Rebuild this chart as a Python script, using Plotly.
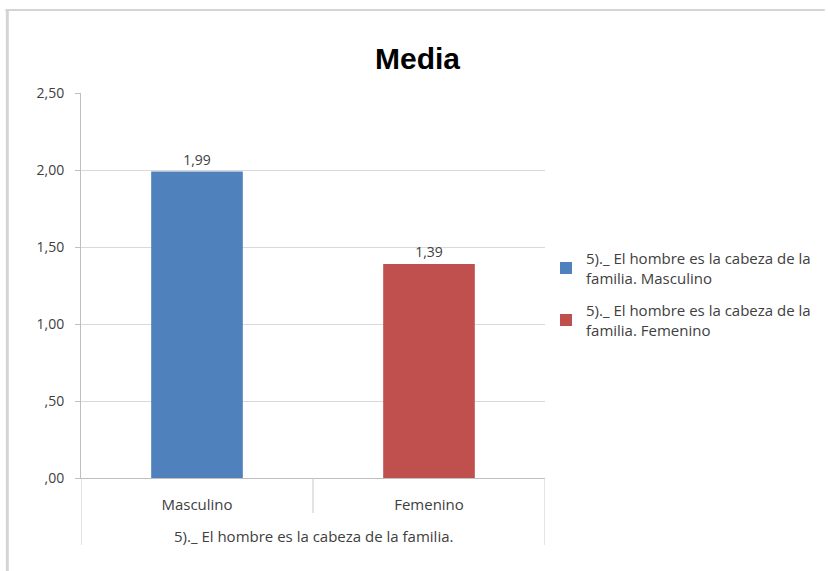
import plotly.graph_objects as go

# ---- data ----
categories = ["Masculino", "Femenino"]
values = [1.99, 1.39]
series_names = [
    "5)._ El hombre es la cabeza de la<br>familia. Masculino",
    "5)._ El hombre es la cabeza de la<br>familia. Femenino",
]
group_label = "5)._ El hombre es la cabeza de la familia."
tick_vals = [0, 0.5, 1.0, 1.5, 2.0, 2.5]
tick_text = [",00", ",50", "1,00", "1,50", "2,00", "2,50"]
colors = ["#4F81BD", "#C0504D"]
title = "Media"

W, H = 828, 571
L, R, T, B = 81, 547, 93, 478
pw, ph = R - L, B - T


def px_x(p):
    return (p - L) / pw


def px_y(p):
    return (B - p) / ph


FONT = "Open Sans"
TXT = "#404040"

fig = go.Figure()
for i, (c, v) in enumerate(zip(categories, values)):
    fig.add_trace(go.Bar(
        x=[c], y=[v], name=series_names[i],
        marker=dict(color=colors[i], line=dict(width=0)),
        width=0.395,
        text=[f"{v:.2f}".replace(".", ",")],
        textposition="outside",
        textfont=dict(family=FONT, size=14, color=TXT),
        cliponaxis=False,
        legendgroup=f"g{i}",
    ))

shapes = []
# category dividers (multi-level axis look)
for xv, bottom in [(-0.5, 545), (0.5, 513), (1.5, 545)]:
    shapes.append(dict(type="line", xref="x", yref="paper", x0=xv, x1=xv,
                       y0=0, y1=px_y(bottom), line=dict(color="#C8C8C8", width=1)))
# outer chart frame (top and left)
shapes.append(dict(type="line", xref="paper", yref="paper",
                   x0=px_x(5), x1=px_x(828), y0=px_y(10), y1=px_y(10),
                   line=dict(color="#D4D4D4", width=2)))
shapes.append(dict(type="line", xref="paper", yref="paper",
                   x0=px_x(7), x1=px_x(7), y0=px_y(10), y1=px_y(571),
                   line=dict(color="#D4D4D4", width=3)))

annotations = [
    dict(text=group_label, xref="paper", yref="paper", x=0.5, y=px_y(536),
         showarrow=False, font=dict(family=FONT, size=15, color=TXT),
         xanchor="center", yanchor="middle"),
    dict(text="<b>" + title + "</b>", xref="paper", yref="paper",
         x=px_x(419), y=px_y(59), showarrow=False,
         font=dict(family="Liberation Sans", size=30, color="#000000"),
         xanchor="center", yanchor="middle"),
]

fig.update_layout(
    width=W, height=H,
    margin=dict(l=L, r=W - R, t=T, b=H - B, pad=0),
    paper_bgcolor="white", plot_bgcolor="white",
    barmode="overlay",
    showlegend=True,
    legend=dict(x=px_x(548), y=px_y(242), xanchor="left", yanchor="top",
                font=dict(family=FONT, size=15, color=TXT),
                tracegroupgap=10, itemwidth=30, bgcolor="rgba(0,0,0,0)"),
    shapes=shapes,
    annotations=annotations,
    xaxis=dict(type="category", categoryorder="array", categoryarray=categories,
               range=[-0.5, 1.5], showgrid=False, showline=True,
               linecolor="#BFBFBF", linewidth=1, ticks="",
               tickfont=dict(family=FONT, size=15, color=TXT),
               ticklabelstandoff=13, zeroline=False, fixedrange=True),
    yaxis=dict(range=[0, 2.5], tickvals=tick_vals, ticktext=tick_text,
               showgrid=True, gridcolor="#D9D9D9", gridwidth=1,
               showline=True, linecolor="#BFBFBF", linewidth=1,
               ticks="outside", ticklen=5, tickcolor="#BFBFBF",
               tickfont=dict(family=FONT, size=14, color=TXT),
               ticklabelstandoff=8, zeroline=False),
)

fig.write_html("out.html")
